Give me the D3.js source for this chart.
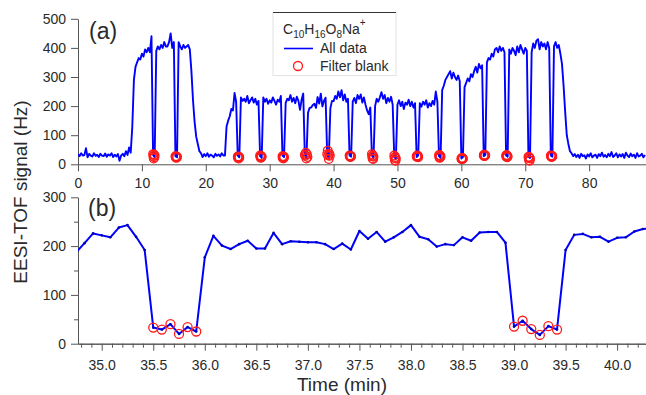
<!DOCTYPE html>
<html lang="en">
<head>
    <meta charset="UTF-8" />
    <title>EESI-TOF signal</title>
    <style>
        body,
        html {
            margin: 0;
            padding: 0;
            background-color: white;
        }

        #svg {
            display: block;
            font-family: "Liberation Sans", Arial, sans-serif;
        }
    </style>
</head>
<body>
    <svg id="svg" width="646" height="395"></svg>
    <script src="https://cdn.jsdelivr.net/npm/d3@7"></script>
    <script>
        // ---- data ----
        // panel (a): full run, one reading every 0.25 min from t = 0
        const stepA = 0.25;
        const signalA = [
            35, 28, 38, 30, 32, 55, 24, 36, 30, 27, 38, 29, 33, 25, 36, 30, 28, 37, 26, 34,
            30, 38, 25, 33, 27, 35, 12, 30, 36, 28, 45, 32, 58, 40, 130, 290, 335, 350, 365, 360,
            380, 370, 395, 385, 400, 385, 440, 32, 24, 390, 405, 395, 410, 400, 420, 405, 405, 420, 450, 400,
            420, 28, 24, 420, 405, 395, 410, 400, 405, 410, 395, 320, 220, 146, 95, 70, 45, 38, 25, 35,
            28, 38, 26, 33, 30, 24, 36, 29, 34, 27, 38, 30, 30, 130, 150, 165, 190, 185, 245, 215,
            30, 24, 230, 218, 225, 215, 235, 210, 220, 230, 212, 225, 205, 218, 28, 22, 230, 215, 225, 208,
            220, 212, 230, 218, 205, 222, 215, 235, 30, 25, 210, 225, 220, 238, 215, 228, 210, 232, 218, 187,
            222, 243, 33, 20, 177, 194, 195, 204, 208, 194, 231, 209, 243, 199, 218, 229, 35, 18, 192, 218,
            217, 235, 225, 250, 230, 255, 220, 240, 215, 225, 30, 26, 215, 228, 210, 238, 225, 240, 212, 230,
            205, 185, 172, 195, 30, 22, 200, 225, 215, 230, 248, 225, 238, 210, 228, 215, 232, 205, 25, 18,
            205, 220, 200, 215, 190, 212, 205, 222, 200, 215, 195, 210, 25, 30, 210, 198, 215, 205, 220, 195,
            210, 200, 218, 205, 250, 215, 28, 22, 255, 270, 290, 300, 310, 320, 295, 315, 300, 290, 305, 285,
            20, 25, 265, 280, 295, 285, 310, 300, 320, 335, 315, 345, 330, 340, 28, 32, 350, 365, 360, 380,
            370, 395, 400, 385, 405, 390, 400, 385, 30, 26, 395, 380, 400, 390, 375, 405, 385, 410, 395, 380,
            400, 390, 26, 22, 385, 415, 400, 425, 430, 395, 420, 405, 415, 395, 420, 400, 30, 26, 405, 420,
            400, 410, 380, 345, 270, 180, 100, 70, 45, 38, 28, 35, 25, 33, 22, 36, 28, 31, 20, 34,
            27, 38, 24, 30, 33, 22, 35, 28, 40, 26, 32, 24, 36, 28, 42, 25, 30, 38, 24, 34,
            27, 35, 22, 40, 30, 25, 37, 28, 33, 22, 38, 27, 30, 36, 24, 32
        ];

        // filter blank points of panel (a) that are outside the zoom window
        const blanksA = [
            [11.75, 35], [11.8, 28], [11.85, 20], [11.9, 33], [11.95, 24], [12.0, 30],
            [15.25, 28], [15.3, 24], [15.35, 27], [15.4, 22], [15.45, 26], [15.5, 25],
            [25.0, 27], [25.05, 22], [25.1, 25], [25.15, 20], [25.2, 26], [25.25, 23],
            [28.5, 30], [28.55, 26], [28.6, 22], [28.65, 28], [28.7, 24], [28.75, 27],
            [32.0, 28], [32.05, 22], [32.1, 25], [32.15, 20], [32.2, 27], [32.25, 24],
            [42.5, 30], [42.55, 27], [42.6, 25], [42.65, 29], [42.7, 26], [42.75, 28],
            [46.0, 35], [46.05, 28], [46.1, 20], [46.15, 30], [46.2, 18], [46.25, 26],
            [49.5, 30], [49.55, 22], [49.6, 14], [49.65, 25], [49.7, 12], [49.75, 20],
            [53.0, 28], [53.05, 25], [53.1, 30], [53.15, 26], [53.2, 29], [53.25, 24],
            [56.5, 32], [56.55, 26], [56.6, 22], [56.65, 30], [56.7, 24], [56.75, 28],
            [60.0, 20], [60.05, 17], [60.1, 22], [60.15, 18], [60.2, 21], [60.25, 19],
            [63.5, 30], [63.55, 33], [63.6, 28], [63.65, 32], [63.7, 29], [63.75, 31],
            [67.0, 30], [67.05, 26], [67.1, 32], [67.15, 24], [67.2, 28], [67.25, 27],
            [70.5, 26], [70.55, 22], [70.6, 14], [70.65, 24], [70.7, 12], [70.75, 20],
            [74.0, 30], [74.05, 26], [74.1, 28], [74.15, 25], [74.2, 29], [74.25, 27]
        ];

        // panel (b): zoom, one reading every 5 s from 34.75 min
        const startB = 34.75;
        const stepB = 1 / 12;
        const signalB = [
            187, 206, 226, 222, 218, 238, 243, 219, 192, 33, 29, 40, 20, 34, 25, 177,
            221, 201, 194, 204, 211, 195, 195, 227, 204, 210, 209, 208, 208, 204, 194, 205,
            193, 231, 215, 229, 209, 218, 229, 243, 219, 214, 199, 204, 202, 218, 211, 228,
            229, 229, 207, 35, 47, 30, 18, 36, 29, 192, 223, 225, 218, 219, 209, 217,
            218, 230, 235, 237
        ];
        const blanksB = [
            [35.5, 33], [35.583, 29], [35.667, 40], [35.75, 20], [35.833, 34], [35.917, 25],
            [39.0, 35], [39.083, 47], [39.167, 30], [39.25, 18], [39.333, 36], [39.417, 29]
        ];

        const xTicksA = [0, 10, 20, 30, 40, 50, 60, 70, 80];
        const yTicksA = [0, 100, 200, 300, 400, 500];
        const xTicksB = [35.0, 35.5, 36.0, 36.5, 37.0, 37.5, 38.0, 38.5, 39.0, 39.5, 40.0];
        const yTicksB = [0, 100, 200, 300];
        const yMinorB = [50, 150, 250];

        // ---- layout ----
        const left = 78, right = 646;
        const lineColor = "#0000ff";
        const blankColor = "#ff1a1a";
        const axisColor = "#555";
        const textColor = "#2a2a2a";

        const svg = d3.select("#svg");

        const xA = d3.scaleLinear().domain([0, 88.9]).range([left, right]);
        const yA = d3.scaleLinear().domain([0, 500]).range([164.3, 18.8]);
        const xB = d3.scaleLinear().domain([34.77, 40.28]).range([left, right]);
        const yB = d3.scaleLinear().domain([0, 300]).range([343.7, 197.3]);

        function styleAxis(g, size) {
            g.selectAll("path, line").style("stroke", axisColor);
            g.selectAll("text")
                .style("font-size", size || "14px")
                .style("fill", textColor)
                .style("font-family", "'Liberation Sans', Arial, sans-serif");
        }

        // clip paths so lines stay inside the frames
        const defs = svg.append("defs");
        defs.append("clipPath").attr("id", "clipA").append("rect")
            .attr("x", left).attr("y", 10).attr("width", right - left).attr("height", 160);
        defs.append("clipPath").attr("id", "clipB").append("rect")
            .attr("x", left).attr("y", 190).attr("width", right - left).attr("height", 160);

        // ---- panel (a) ----
        const axAx = svg.append("g")
            .attr("transform", `translate(0,${yA(0)})`)
            .call(d3.axisBottom(xA).tickValues(xTicksA).tickSize(7).tickPadding(7).tickSizeOuter(0));
        styleAxis(axAx);

        const ayAx = svg.append("g")
            .attr("transform", `translate(${left},0)`)
            .call(d3.axisLeft(yA).tickValues(yTicksA).tickSize(7).tickPadding(5).tickSizeOuter(0));
        styleAxis(ayAx);

        const lineA = d3.line()
            .x((d, i) => xA(i * stepA))
            .y(d => yA(d));

        svg.append("path")
            .datum(signalA)
            .attr("clip-path", "url(#clipA)")
            .attr("fill", "none")
            .attr("stroke", lineColor)
            .attr("stroke-width", 1.9)
            .attr("stroke-linejoin", "round")
            .attr("d", lineA);

        svg.append("g").selectAll("circle")
            .data(blanksA.concat(blanksB))
            .enter()
            .append("circle")
            .attr("cx", d => xA(d[0]))
            .attr("cy", d => yA(d[1]))
            .attr("r", 4.3)
            .attr("fill", "none")
            .attr("stroke", blankColor)
            .attr("stroke-width", 1.3);

        svg.append("text")
            .attr("x", 89).attr("y", 39)
            .style("font-size", "23px")
            .style("fill", textColor)
            .text("(a)");

        // legend
        const legend = svg.append("g");
        legend.append("rect")
            .attr("x", 273).attr("y", 12.5).attr("width", 123).attr("height", 63)
            .attr("fill", "white").attr("stroke", "#e2e2e2");
        legend.append("line")
            .attr("x1", 273).attr("x2", 396).attr("y1", 12.5).attr("y2", 12.5)
            .attr("stroke", "#333").attr("stroke-width", 1.2);

        const title = legend.append("text")
            .attr("x", 283).attr("y", 34)
            .style("font-size", "14px")
            .style("fill", textColor);
        const parts = [["C", 0], ["10", 4], ["H", 0], ["16", 4], ["O", 0], ["8", 4], ["Na", 0], ["+", -8]];
        let shift = 0;
        parts.forEach(p => {
            title.append("tspan")
                .attr("dy", p[1] - shift)
                .style("font-size", p[1] === 0 ? "14px" : "10px")
                .text(p[0]);
            shift = p[1];
        });

        legend.append("line")
            .attr("x1", 284).attr("x2", 313).attr("y1", 48.5).attr("y2", 48.5)
            .attr("stroke", lineColor).attr("stroke-width", 1.6);
        legend.append("text")
            .attr("x", 320).attr("y", 53)
            .style("font-size", "14px").style("fill", textColor)
            .text("All data");
        legend.append("circle")
            .attr("cx", 298).attr("cy", 66).attr("r", 4.5)
            .attr("fill", "none").attr("stroke", blankColor).attr("stroke-width", 1.3);
        legend.append("text")
            .attr("x", 320).attr("y", 70.5)
            .style("font-size", "14px").style("fill", textColor)
            .text("Filter blank");

        // ---- panel (b) ----
        const bxMinor = d3.range(34.8, 40.29, 0.1)
            .filter(v => Math.abs(v * 2 - Math.round(v * 2)) > 0.01);
        const bxMinorAx = svg.append("g")
            .attr("transform", `translate(0,${yB(0)})`)
            .call(d3.axisBottom(xB).tickValues(bxMinor).tickSize(4).tickFormat("").tickSizeOuter(0));
        styleAxis(bxMinorAx);

        const bxAx = svg.append("g")
            .attr("transform", `translate(0,${yB(0)})`)
            .call(d3.axisBottom(xB).tickValues(xTicksB).tickSize(7).tickPadding(9)
                .tickFormat(d3.format(".1f")).tickSizeOuter(0));
        styleAxis(bxAx);

        const byMinorAx = svg.append("g")
            .attr("transform", `translate(${left},0)`)
            .call(d3.axisLeft(yB).tickValues(yMinorB).tickSize(4).tickFormat("").tickSizeOuter(0));
        styleAxis(byMinorAx);

        const byAx = svg.append("g")
            .attr("transform", `translate(${left},0)`)
            .call(d3.axisLeft(yB).tickValues(yTicksB).tickSize(7).tickPadding(5).tickSizeOuter(0));
        styleAxis(byAx);

        const lineB = d3.line()
            .x((d, i) => xB(startB + i * stepB))
            .y(d => yB(d));

        const plotB = svg.append("g").attr("clip-path", "url(#clipB)");
        plotB.append("path")
            .datum(signalB)
            .attr("fill", "none")
            .attr("stroke", lineColor)
            .attr("stroke-width", 2)
            .attr("stroke-linejoin", "round")
            .attr("d", lineB);

        plotB.selectAll(".dot")
            .data(signalB)
            .enter()
            .append("circle")
            .attr("class", "dot")
            .attr("cx", (d, i) => xB(startB + i * stepB))
            .attr("cy", d => yB(d))
            .attr("r", 1.3)
            .attr("fill", "#0000b0");

        svg.append("g").selectAll("circle")
            .data(blanksB)
            .enter()
            .append("circle")
            .attr("cx", d => xB(d[0]))
            .attr("cy", d => yB(d[1]))
            .attr("r", 4.5)
            .attr("fill", "none")
            .attr("stroke", blankColor)
            .attr("stroke-width", 1.3);

        svg.append("text")
            .attr("x", 88).attr("y", 216)
            .style("font-size", "23px")
            .style("fill", textColor)
            .text("(b)");

        // axis titles
        svg.append("text")
            .attr("transform", "translate(27,192) rotate(-90)")
            .style("text-anchor", "middle")
            .style("font-size", "19px")
            .style("fill", textColor)
            .text("EESI-TOF signal (Hz)");

        svg.append("text")
            .attr("x", 342).attr("y", 391)
            .style("text-anchor", "middle")
            .style("font-size", "19px")
            .style("fill", textColor)
            .text("Time (min)");
    </script>
</body>
</html>
